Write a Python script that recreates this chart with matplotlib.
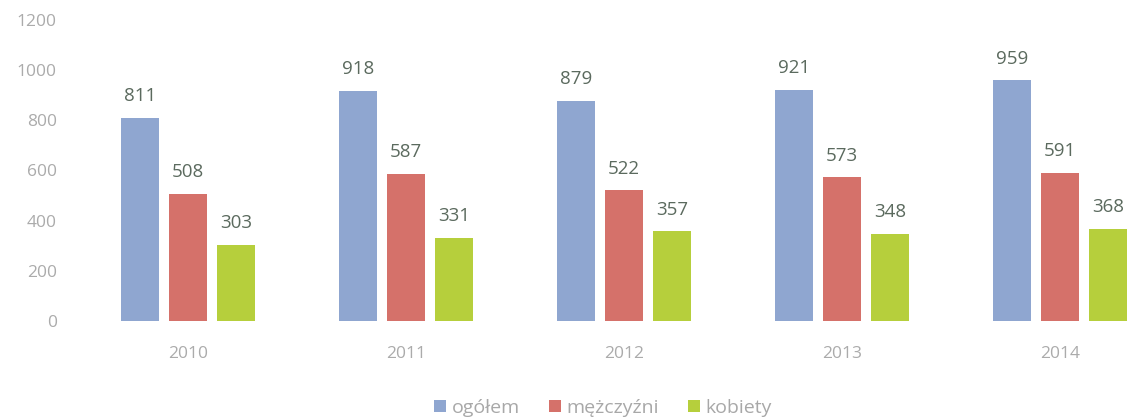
import matplotlib.pyplot as plt
import numpy as np

# dane z wykresu
lata = ["2010", "2011", "2012", "2013", "2014"]
ogolem = [811, 918, 879, 921, 959]
mezczyzni = [508, 587, 522, 573, 591]
kobiety = [303, 331, 357, 348, 368]

plt.rcParams['font.family'] = ['Open Sans', 'DejaVu Sans']

fig = plt.figure(figsize=(11.35, 4.19), dpi=100)
ax = fig.add_axes([79 / 1135, 1 - 321 / 419, 1 - 79 / 1135, 301 / 419])

x = np.arange(len(lata))
w = 0.175
step = 0.22
serie = [(ogolem, "#8fa6d0", "ogółem"), (mezczyzni, "#d5716a", "mężczyźni"), (kobiety, "#b6cf3c", "kobiety")]

for i, (vals, kolor, nazwa) in enumerate(serie):
    pos = x + (i - 1) * step
    ax.bar(pos, vals, w, color=kolor, label=nazwa)
    for p, v in zip(pos, vals):
        ax.text(p, v + 50, str(v), ha="center", va="bottom", fontsize=13.5, color="#5b6a5e")

ax.set_ylim(0, 1200)
ax.set_xlim(-0.5, (1135 - 188) / 218)
ax.set_yticks(range(0, 1201, 200))
ax.set_xticks(x)
ax.set_xticklabels(lata)
ax.tick_params(axis="both", length=0, labelsize=12.5, colors="#ababab")
ax.tick_params(axis="x", pad=18)
ax.tick_params(axis="y", pad=16)
for s in ax.spines.values():
    s.set_visible(False)

fig.legend(loc="center", bbox_to_anchor=(603 / 1135, 1 - 408 / 419), ncol=3, frameon=False,
           fontsize=14, handlelength=0.6, handleheight=0.6, handletextpad=0.3, columnspacing=1.5,
           labelcolor="#a8a8a8")

fig.savefig("out.png", dpi=100)
